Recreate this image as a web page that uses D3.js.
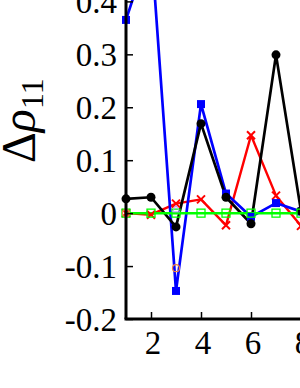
<!DOCTYPE html>
<html>
<head>
<meta charset="utf-8">
<script src="https://cdn.jsdelivr.net/npm/d3@7"></script>
<style>
  body { margin: 0; background: #fff; }
  svg { display: block; }
  svg text { font-family: "Liberation Serif", "DejaVu Serif", serif; }
</style>
</head>
<body>
<div id="chart"></div>
<script>
// values
const xs = [1, 2, 3, 4, 5, 6, 7, 8];
const blueVals  = [0.365, 0.51, -0.147, 0.206, 0.037, -0.007, 0.019, 0.003];
const blackVals = [0.027, 0.030, -0.026, 0.169, 0.030, -0.020, 0.299, 0.004];
const redVals   = [0.0, -0.003, 0.018, 0.026, -0.023, 0.147, 0.033, -0.024];
const greenVals = [0, 0, 0, 0, 0, 0, 0, 0];
const orangeVals = [0, null, -0.104, null, null, null, null, null];
const lilacVals  = [null, null, 0.008, null, null, null, null, null];
const yTicks = [-0.2, -0.1, 0, 0.1, 0.2, 0.3, 0.4];
const xTicks = [2, 4, 6, 8];

const width = 300, height = 388;

const svg = d3.select("#chart").append("svg")
  .attr("width", width)
  .attr("height", height);

const x = d3.scaleLinear().domain([1, 9]).range([126, 326]);
const y = d3.scaleLinear().domain([-0.2, 0.4]).range([319, 1.4]);

// series lines
function drawLine(vals, color, w) {
  const pts = xs.map((d, i) => [d, vals[i]]).filter(p => p[1] !== null);
  svg.append("path")
    .datum(pts)
    .attr("fill", "none")
    .attr("stroke", color)
    .attr("stroke-width", w)
    .attr("stroke-linejoin", "round")
    .attr("d", d3.line().x(p => x(p[0])).y(p => y(p[1])));
  return pts;
}

const redPts = drawLine(redVals, "#ff0000", 2.4);
const bluePts = drawLine(blueVals, "#0000ff", 2.7);
const blackPts = drawLine(blackVals, "#000000", 2.7);
const greenPts = drawLine(greenVals, "#00ff00", 2.5);

// markers
svg.selectAll(".cross")
  .data(redPts)
  .join("path")
  .attr("transform", p => `translate(${x(p[0])},${y(p[1])})`)
  .attr("d", "M-4,-4L4,4M-4,4L4,-4")
  .attr("stroke", "#ff0000")
  .attr("stroke-width", 2);

svg.selectAll(".bsq")
  .data(bluePts)
  .join("rect")
  .attr("x", p => x(p[0]) - 4)
  .attr("y", p => y(p[1]) - 4)
  .attr("width", 8)
  .attr("height", 8)
  .attr("fill", "#0000ff");

svg.selectAll(".dot")
  .data(blackPts)
  .join("circle")
  .attr("cx", p => x(p[0]))
  .attr("cy", p => y(p[1]))
  .attr("r", 4.5)
  .attr("fill", "#000");

svg.selectAll(".gsq")
  .data(greenPts)
  .join("rect")
  .attr("x", p => x(p[0]) - 4)
  .attr("y", p => y(p[1]) - 4)
  .attr("width", 8)
  .attr("height", 8)
  .attr("fill", "none")
  .attr("stroke", "#00ff00")
  .attr("stroke-width", 1.3);

const orangePts = xs.map((d, i) => [d, orangeVals[i]]).filter(p => p[1] !== null);
svg.selectAll(".ocirc")
  .data(orangePts)
  .join("circle")
  .attr("cx", p => x(p[0]))
  .attr("cy", p => y(p[1]))
  .attr("r", 3.5)
  .attr("fill", "none")
  .attr("stroke", "#f08040")
  .attr("stroke-width", 1.2);

const lilacPts = xs.map((d, i) => [d, lilacVals[i]]).filter(p => p[1] !== null);
svg.selectAll(".tri")
  .data(lilacPts)
  .join("path")
  .attr("transform", p => `translate(${x(p[0])},${y(p[1])})`)
  .attr("d", "M0,-3.5L3.5,3L-3.5,3Z")
  .attr("fill", "none")
  .attr("stroke", "#b090ff")
  .attr("stroke-width", 1);

// axes (inward ticks)
const yAxis = d3.axisLeft(y).tickValues(yTicks).tickSizeInner(-7).tickSizeOuter(0)
  .tickFormat(d => d === 0 ? "0" : d3.format(".1f")(d).replace("\u2212", "-"));
svg.append("g")
  .attr("transform", `translate(${x(1)},0)`)
  .call(yAxis)
  .attr("font-family", null)
  .call(g => g.select(".domain").attr("stroke-width", 3).attr("d", `M0,-10V${y(-0.2)}`))
  .call(g => g.selectAll(".tick line").attr("stroke-width", 1.5))
  .call(g => g.selectAll(".tick text")
    .attr("x", -9)
    .attr("dy", "0.34em")
    .style("font-size", "33px")
    .attr("fill", "#000"));

const xAxis = d3.axisBottom(x).tickValues(xTicks).tickSizeInner(-7).tickSizeOuter(0)
  .tickFormat(d3.format("d"));
svg.append("g")
  .attr("transform", `translate(0,${y(-0.2)})`)
  .call(xAxis)
  .attr("font-family", null)
  .call(g => g.select(".domain").attr("stroke-width", 3).attr("d", `M${x(1) - 1.5},0H${width + 10}`))
  .call(g => g.selectAll(".tick line").attr("stroke-width", 1.5))
  .call(g => g.selectAll(".tick text")
    .attr("x", 1.5)
    .attr("y", 12)
    .attr("dy", "0.71em")
    .style("font-size", "33px")
    .attr("fill", "#000"));

// y label
const lab = svg.append("text")
  .attr("transform", `translate(35,163) rotate(-90)`)
  .style("font-size", "48px")
  .attr("fill", "#000");
lab.append("tspan").text("Δ");
lab.append("tspan").attr("font-style", "italic").text("ρ");
lab.append("tspan").style("font-size", "32px").attr("dy", 8).text("11");
</script>
</body>
</html>
